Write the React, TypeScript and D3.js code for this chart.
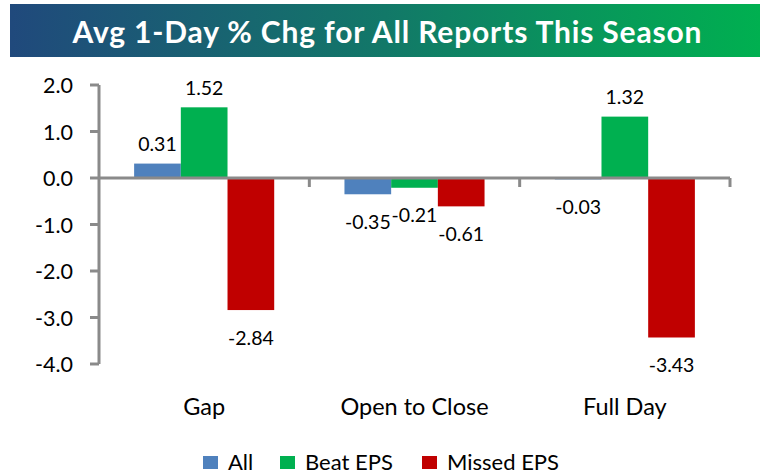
import React from "react";
import * as d3 from "d3";

const title = "Avg 1-Day % Chg for All Reports This Season";
const categories = ["Gap", "Open to Close", "Full Day"];
const seriesNames = ["All", "Beat EPS", "Missed EPS"];
const allValues = [0.31, -0.35, -0.03];
const beatValues = [1.52, -0.21, 1.32];
const missedValues = [-2.84, -0.61, -3.43];
const yTicks = [2, 1, 0, -1, -2, -3, -4];
const colors = ["#4f81bd", "#00b050", "#c00000"];

const W = 760;
const H = 476;
const FONT = "Lato, 'Open Sans', sans-serif";

export default function App() {
  const seriesValues = [allValues, beatValues, missedValues];
  const x0 = d3
    .scaleBand<string>()
    .domain(categories)
    .range([99, 730])
    .paddingInner(0.334)
    .paddingOuter(0.167);
  const x1 = d3
    .scaleBand<string>()
    .domain(seriesNames)
    .range([0, x0.bandwidth()]);
  const y = d3.scaleLinear().domain([-4, 2]).range([364, 85]);
  const step = x0.step();
  const axisX = 99;
  const gray = "#8a8a8a";

  return (
    <svg
      width={W}
      height={H}
      style={{ position: "absolute", left: 0, top: 0, background: "#fff" }}
      fontFamily={FONT}
    >
      <defs>
        <linearGradient id="banner" x1="0" x2="1" y1="0" y2="0">
          <stop offset="0%" stopColor="#20497c" />
          <stop offset="50%" stopColor="#127868" />
          <stop offset="100%" stopColor="#00b050" />
        </linearGradient>
      </defs>
      <rect x={10} y={4} width={750} height={53} fill="url(#banner)" />
      <text
        x={387}
        y={31}
        fill="#fff"
        fontSize={30}
        fontWeight={700}
        textAnchor="middle"
        dominantBaseline="central"
        textLength={629}
        lengthAdjust="spacing"
      >
        {title}
      </text>

      {/* y axis */}
      {yTicks.map((t) => (
        <g key={t}>
          <line x1={axisX - 9} x2={axisX} y1={y(t)} y2={y(t)} stroke={gray} strokeWidth={3} />
          <text
            x={73}
            y={y(t)}
            fontSize={21.5}
            textAnchor="end"
            dominantBaseline="central"
            fill="#000"
          >
            {t.toFixed(1)}
          </text>
        </g>
      ))}

      {/* bars */}
      {categories.map((c, ci) => (
        <g key={c} transform={`translate(${x0(c)},0)`}>
          {seriesNames.map((s, si) => {
            const v = seriesValues[si][ci];
            const top = y(Math.max(0, v));
            const h = Math.abs(y(v) - y(0));
            return (
              <rect
                key={s}
                x={x1(s)}
                y={top}
                width={x1.bandwidth()}
                height={h}
                fill={colors[si]}
              />
            );
          })}
        </g>
      ))}

      {/* zero line and category ticks */}
      <line x1={axisX} x2={730} y1={y(0)} y2={y(0)} stroke={gray} strokeWidth={3} />
      <line x1={axisX} x2={axisX} y1={y(2)} y2={y(-4)} stroke={gray} strokeWidth={3} />
      {categories.map((c, ci) => {
        const bx = 99 + step * (ci + 1);
        return (
          <line key={c} x1={bx} x2={bx} y1={y(0)} y2={y(0) + 9} stroke={gray} strokeWidth={3} />
        );
      })}

      {/* data labels */}
      {categories.map((c, ci) => (
        <g key={c} transform={`translate(${x0(c)},0)`}>
          {seriesNames.map((s, si) => {
            const v = seriesValues[si][ci];
            const cx = (x1(s) as number) + x1.bandwidth() / 2;
            const cy = v >= 0 ? y(v) - 20 : y(v) + 27;
            return (
              <text
                key={s}
                x={cx}
                y={cy}
                fontSize={19.5}
                textAnchor="middle"
                dominantBaseline="central"
                fill="#000"
              >
                {v.toFixed(2)}
              </text>
            );
          })}
        </g>
      ))}

      {/* category labels */}
      {categories.map((c) => (
        <text
          key={c}
          x={(x0(c) as number) + x0.bandwidth() / 2}
          y={415}
          fontSize={23.5}
          textAnchor="middle"
          fill="#000"
        >
          {c}
        </text>
      ))}

      {/* legend */}
      {seriesNames.map((s, si) => {
        const lx = [203, 280, 422][si];
        return (
          <g key={s}>
            <rect x={lx} y={456} width={15} height={13} fill={colors[si]} />
            <text x={lx + 25} y={469.5} fontSize={22} fill="#000">
              {s}
            </text>
          </g>
        );
      })}
    </svg>
  );
}
